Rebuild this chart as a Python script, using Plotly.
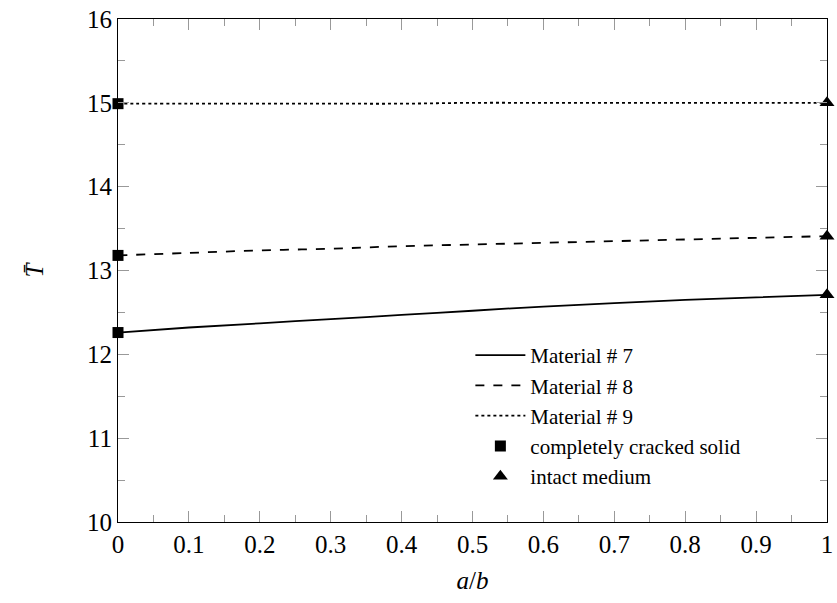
import plotly.graph_objects as go

# data
a_b = [0.0, 0.1, 0.2, 0.3, 0.4, 0.5, 0.6, 0.7, 0.8, 0.9, 1.0]
mat7 = [12.26, 12.32, 12.37, 12.42, 12.47, 12.52, 12.57, 12.61, 12.65, 12.68, 12.71]
mat8 = [13.18, 13.21, 13.24, 13.26, 13.29, 13.31, 13.33, 13.35, 13.37, 13.39, 13.41]
mat9 = [14.99, 14.99, 14.99, 14.99, 14.99, 15.00, 15.00, 15.00, 15.00, 15.00, 15.00]
series_names = ["Material # 7", "Material # 8", "Material # 9"]
x_ticks = [0, 0.1, 0.2, 0.3, 0.4, 0.5, 0.6, 0.7, 0.8, 0.9, 1]
x_tick_text = ["0", "0.1", "0.2", "0.3", "0.4", "0.5", "0.6", "0.7", "0.8", "0.9", "1"]
y_ticks = [10, 11, 12, 13, 14, 15, 16]

FONT = "'Liberation Serif', 'Times New Roman', serif"
fig = go.Figure()
series = [mat7, mat8, mat9]
dashes = ["solid", "dash", "dot"]
for name, ys, d in zip(series_names, series, dashes):
    fig.add_trace(go.Scatter(x=a_b, y=ys, mode="lines", name=name,
                             line=dict(color="black", width=1.8, dash=d),
                             line_shape="spline", cliponaxis=False))

fig.add_trace(go.Scatter(x=[a_b[0]] * 3, y=[s[0] for s in series], mode="markers",
                         name="completely cracked solid",
                         marker=dict(symbol="square", size=11, color="black"),
                         cliponaxis=False))
fig.add_trace(go.Scatter(x=[a_b[-1]] * 3, y=[s[-1] for s in series], mode="markers",
                         name="intact medium",
                         marker=dict(symbol="triangle-up", size=13, color="black"),
                         cliponaxis=False))

axis_common = dict(showline=True, linecolor="black", linewidth=1.2, mirror="ticks",
                   ticks="inside", ticklen=11, tickcolor="#999999", tickwidth=1,
                   showgrid=False, zeroline=False, automargin=False,
                   tickfont=dict(family=FONT, size=25, color="black"))

fig.update_xaxes(range=[0, 1], tickvals=x_ticks, ticktext=x_tick_text,
                 minor=dict(ticks="inside", ticklen=7, tickcolor="#999999", dtick=0.05, tick0=0),
                 title=dict(text="<i>a</i>/<i>b</i>", font=dict(family=FONT, size=25), standoff=14),
                 **axis_common)
fig.update_yaxes(range=[10, 16], tickvals=y_ticks,
                 minor=dict(ticks="inside", ticklen=7, tickcolor="#999999", dtick=0.5, tick0=10),
                 title=dict(text="<i>T\u0304</i>", font=dict(family=FONT, size=25), standoff=36),
                 **axis_common)

fig.update_layout(
    width=837, height=603,
    margin=dict(l=118, r=10, t=19, b=81),
    paper_bgcolor="white", plot_bgcolor="white",
    font=dict(family=FONT, color="black"),
    legend=dict(x=0.497, y=0.372, xanchor="left", yanchor="top",
                bgcolor="rgba(0,0,0,0)", font=dict(family=FONT, size=21),
                itemwidth=50, tracegroupgap=0),
)

fig.write_html("out.html", config={"displayModeBar": False},
               post_script="document.body.style.margin='0';document.body.style.padding='0';")
